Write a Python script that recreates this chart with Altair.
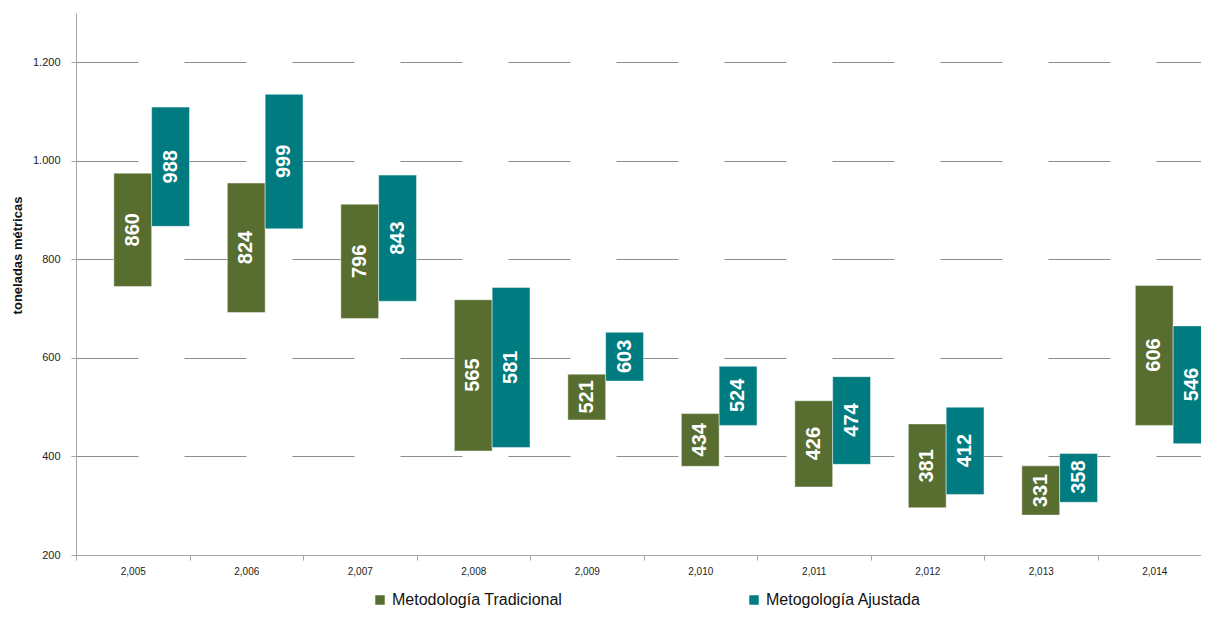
import altair as alt
import pandas as pd

years = ["2,005", "2,006", "2,007", "2,008", "2,009", "2,010", "2,011", "2,012", "2,013", "2,014"]
series = ["Metodología Tradicional", "Metogología Ajustada"]

trad_low = [745, 692, 680, 411, 474, 380, 338, 296, 281, 463]
trad_high = [975, 955, 912, 718, 567, 487, 513, 466, 381, 747]
trad_label = [860, 824, 796, 565, 521, 434, 426, 381, 331, 606]

aj_low = [867, 862, 715, 418, 553, 463, 384, 323, 307, 426]
aj_high = [1109, 1135, 971, 743, 652, 583, 562, 500, 406, 665]
aj_label = [988, 999, 843, 581, 603, 524, 474, 412, 358, 546]

y_ticks = [200, 400, 600, 800, 1000, 1200]

rows = []
for i, y in enumerate(years):
    rows.append({"year": y, "serie": series[0], "low": trad_low[i], "high": trad_high[i], "label": trad_label[i]})
    rows.append({"year": y, "serie": series[1], "low": aj_low[i], "high": aj_high[i], "label": aj_label[i]})
df = pd.DataFrame(rows)

GREEN = "#586e31"
TEAL = "#007b7f"
NARROW = "Liberation Sans Narrow, Arial Narrow, Liberation Sans, Arial, sans-serif"
SANS = "Liberation Sans, Arial, sans-serif"

x_enc = alt.X(
    "year:N",
    sort=years,
    scale=alt.Scale(domain=years, paddingInner=0, paddingOuter=0),
    axis=alt.Axis(
        title=None, labelAngle=0, labelFont=SANS, labelFontSize=10, labelColor="#222222",
        labelPadding=6, domainColor="#a6a6a6", tickColor="#a6a6a6", tickSize=5,
        tickBand="extent", grid=False,
    ),
)
xo_enc = alt.XOffset(
    "serie:N",
    scale=alt.Scale(domain=["_", series[0], series[1]], paddingInner=0, paddingOuter=0),
)

y_scale = alt.Scale(domain=[200, 1300], nice=False, zero=False)

base = alt.Chart(df).encode(x=x_enc, xOffset=xo_enc)

bars = base.mark_bar(stroke="white", strokeOpacity=0.45, strokeWidth=1).encode(
    y=alt.Y(
        "low:Q",
        scale=y_scale,
        axis=alt.Axis(
            values=y_ticks,
            title="toneladas métricas",
            titleFont=NARROW, titleFontSize=13, titleFontWeight="bold", titleColor="#111111",
            titleAngle=270, titleX=-59, titleY=242, titleAlign="center", titleBaseline="middle",
            labelFont=SANS, labelFontSize=11, labelColor="#222222", labelPadding=11,
            labelExpr="replace(format(datum.value, ','), ',', '.')",
            domainColor="#a6a6a6", tickColor="#a6a6a6", tickSize=5,
            grid=True, gridColor="#8c8c8c", gridDash=[62, 46], gridWidth=1,
        ),
    ),
    y2="high:Q",
    color=alt.Color(
        "serie:N",
        scale=alt.Scale(domain=series, range=[GREEN, TEAL]),
        legend=alt.Legend(
            title=None, orient="none", legendX=296, legendY=579, direction="horizontal",
            symbolType="square", symbolSize=90, symbolStrokeWidth=0, labelFont=NARROW,
            labelFontSize=16, labelColor="#111111", labelOffset=4, columnPadding=183,
            padding=0, labelLimit=400,
        ),
    ),
)

text = base.mark_text(
    angle=270, color="white", font=NARROW, fontSize=20, fontWeight="bold",
    align="center", baseline="middle",
).encode(
    y=alt.Y("label:Q", scale=y_scale),
    text=alt.Text("label:Q", format="d"),
)

chart = (
    alt.layer(bars, text)
    .properties(
        width=1135, height=542,
        autosize=alt.AutoSizeParams(type="none"),
        padding={"left": 68, "top": 5, "right": -10, "bottom": 54},
    )
    .configure_view(stroke=None)
)

chart.save("out.html", embed_options={"renderer": "svg", "actions": False})
